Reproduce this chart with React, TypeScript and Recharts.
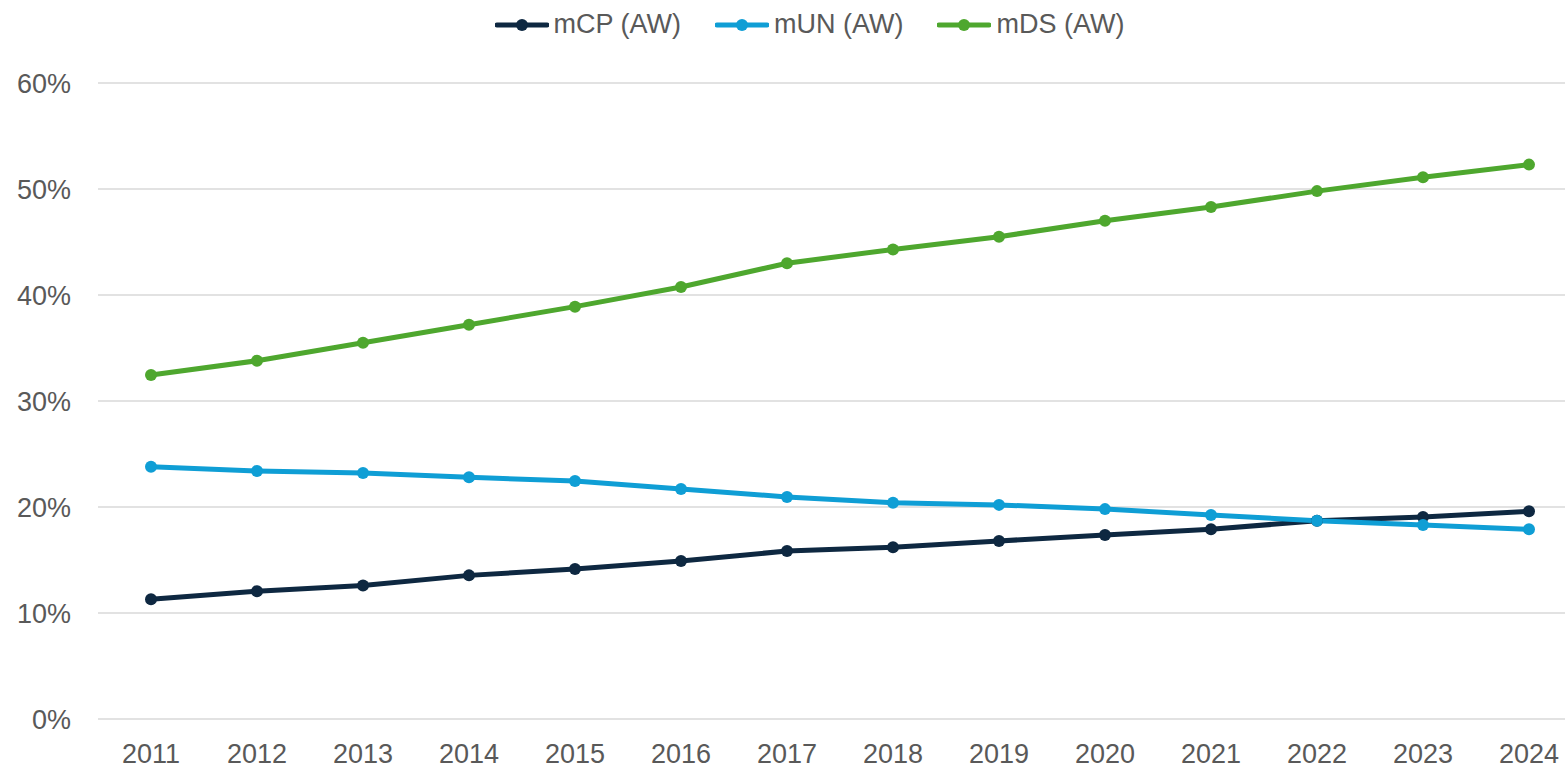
import React from 'react';
import { LineChart, Line, XAxis, YAxis, CartesianGrid, Legend } from 'recharts';

const years = ['2011', '2012', '2013', '2014', '2015', '2016', '2017', '2018', '2019', '2020', '2021', '2022', '2023', '2024'];
const mCP = [11.3, 12.05, 12.6, 13.55, 14.15, 14.9, 15.85, 16.2, 16.8, 17.35, 17.9, 18.7, 19.05, 19.6];
const mUN = [23.8, 23.4, 23.2, 22.8, 22.45, 21.7, 20.95, 20.4, 20.2, 19.8, 19.25, 18.7, 18.3, 17.9];
const mDS = [32.45, 33.8, 35.5, 37.2, 38.9, 40.75, 43.0, 44.3, 45.5, 47.0, 48.3, 49.8, 51.1, 52.3];
const yTicks = [0, 10, 20, 30, 40, 50, 60];

const SERIES = [
  { key: 'mCP', name: 'mCP (AW)', color: '#0E2841' },
  { key: 'mUN', name: 'mUN (AW)', color: '#0F9ED5' },
  { key: 'mDS', name: 'mDS (AW)', color: '#4EA72E' },
];

const data = years.map((year, i) => ({
  year,
  mCP: mCP[i],
  mUN: mUN[i],
  mDS: mDS[i],
}));

const FONT = '"Liberation Sans", Arial, sans-serif';
const TEXT = '#595959';

const LegendContent = () => (
  <div style={{ display: 'flex', justifyContent: 'center', fontFamily: FONT, fontSize: 27, color: TEXT }}>
    {SERIES.map(s => (
      <div key={s.key} style={{ display: 'flex', alignItems: 'center', margin: '0 17px' }}>
        <svg width={54} height={14} style={{ marginRight: 5 }}>
          <line x1={2} y1={7} x2={52} y2={7} stroke={s.color} strokeWidth={5} strokeLinecap="round" />
          <circle cx={27} cy={7} r={6} fill={s.color} />
        </svg>
        <span>{s.name}</span>
      </div>
    ))}
  </div>
);

const App: React.FC = () => {
  return (
    <div style={{ position: 'absolute', left: 0, top: 0, width: 1565, height: 768, overflow: 'hidden', background: '#fff' }}>
      <LineChart width={1600} height={768} data={data} margin={{ top: 83, right: 18, bottom: 0, left: 0 }}>
        <CartesianGrid vertical={false} stroke="#D9D9D9" strokeWidth={1.5} />
        <XAxis
          dataKey="year"
          axisLine={false}
          tickLine={false}
          tickSize={0}
          tickMargin={25}
          height={49}
          padding={{ left: 53, right: 53 }}
          tick={{ fill: TEXT, fontSize: 27, fontFamily: FONT }}
          interval={0}
        />
        <YAxis
          domain={[0, 60]}
          ticks={yTicks}
          width={98}
          axisLine={false}
          tickLine={false}
          tickSize={0}
          tickMargin={27}
          tickFormatter={(v: number) => `${v}%`}
          tick={{ fill: TEXT, fontSize: 27, fontFamily: FONT }}
        />
        <Legend
          verticalAlign="middle"
          align="center"
          content={<LegendContent />}
          wrapperStyle={{ top: 9, left: 0, width: 1619 }}
        />
        {SERIES.map(s => (
          <Line
            key={s.key}
            type="linear"
            dataKey={s.key}
            name={s.name}
            stroke={s.color}
            strokeWidth={5}
            dot={{ r: 6, fill: s.color, stroke: s.color, strokeWidth: 0 }}
            activeDot={false}
            isAnimationActive={false}
          />
        ))}
      </LineChart>
    </div>
  );
};

export default App;
